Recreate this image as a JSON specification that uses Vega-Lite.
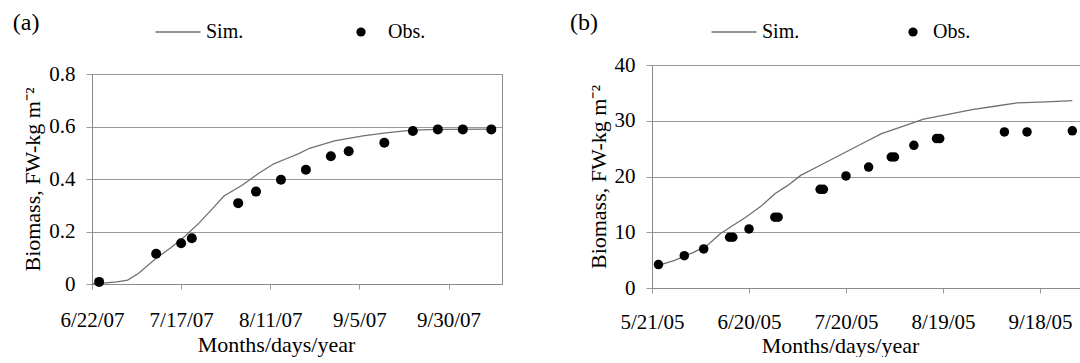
{
  "$schema": "https://vega.github.io/schema/vega-lite/v6.json",
  "background": "white",
  "padding": {"left": 12, "top": 9, "right": 0, "bottom": 0},
  "spacing": 66,
  "config": {
    "font": "Liberation Serif",
    "view": {"stroke": "#8a8a8a", "strokeWidth": 1},
    "axis": {
      "labelFont": "Liberation Serif", "titleFont": "Liberation Serif",
      "labelColor": "black", "titleColor": "black", "titleFontWeight": "normal",
      "labelFontSize": 21, "titleFontSize": 22,
      "domainColor": "#8a8a8a", "tickColor": "#9a9a9a", "gridColor": "#9a9a9a", "gridWidth": 1
    },
    "legend": {"labelFont": "Liberation Serif", "labelFontSize": 20, "labelColor": "black", "padding": 0},
    "title": {"font": "Liberation Serif", "fontSize": 24, "fontWeight": "normal", "anchor": "start", "color": "black"}
  },
  "datasets": {
    "simA": [
      {"date": "2007/06/22", "v": 0.0, "s": "Sim."},
      {"date": "2007/06/25", "v": 0.003, "s": "Sim."},
      {"date": "2007/06/29", "v": 0.008, "s": "Sim."},
      {"date": "2007/07/02", "v": 0.015, "s": "Sim."},
      {"date": "2007/07/05", "v": 0.04, "s": "Sim."},
      {"date": "2007/07/10", "v": 0.098, "s": "Sim."},
      {"date": "2007/07/14", "v": 0.137, "s": "Sim."},
      {"date": "2007/07/18", "v": 0.181, "s": "Sim."},
      {"date": "2007/07/22", "v": 0.232, "s": "Sim."},
      {"date": "2007/07/26", "v": 0.29, "s": "Sim."},
      {"date": "2007/07/29", "v": 0.335, "s": "Sim."},
      {"date": "2007/08/03", "v": 0.375, "s": "Sim."},
      {"date": "2007/08/08", "v": 0.424, "s": "Sim."},
      {"date": "2007/08/12", "v": 0.458, "s": "Sim."},
      {"date": "2007/08/16", "v": 0.48, "s": "Sim."},
      {"date": "2007/08/19", "v": 0.497, "s": "Sim."},
      {"date": "2007/08/22", "v": 0.517, "s": "Sim."},
      {"date": "2007/08/29", "v": 0.545, "s": "Sim."},
      {"date": "2007/09/06", "v": 0.564, "s": "Sim."},
      {"date": "2007/09/13", "v": 0.577, "s": "Sim."},
      {"date": "2007/09/20", "v": 0.586, "s": "Sim."},
      {"date": "2007/09/27", "v": 0.589, "s": "Sim."},
      {"date": "2007/10/13", "v": 0.59, "s": "Sim."}
    ],
    "obsA": [
      {"date": "2007/06/24", "v": 0.008, "o": "Obs."},
      {"date": "2007/07/10", "v": 0.115, "o": "Obs."},
      {"date": "2007/07/17", "v": 0.155, "o": "Obs."},
      {"date": "2007/07/20", "v": 0.174, "o": "Obs."},
      {"date": "2007/08/02", "v": 0.308, "o": "Obs."},
      {"date": "2007/08/07", "v": 0.352, "o": "Obs."},
      {"date": "2007/08/14", "v": 0.397, "o": "Obs."},
      {"date": "2007/08/21", "v": 0.435, "o": "Obs."},
      {"date": "2007/08/28", "v": 0.487, "o": "Obs."},
      {"date": "2007/09/02", "v": 0.506, "o": "Obs."},
      {"date": "2007/09/12", "v": 0.538, "o": "Obs."},
      {"date": "2007/09/20", "v": 0.583, "o": "Obs."},
      {"date": "2007/09/27", "v": 0.589, "o": "Obs."},
      {"date": "2007/10/04", "v": 0.589, "o": "Obs."},
      {"date": "2007/10/12", "v": 0.589, "o": "Obs."}
    ],
    "simB": [
      {"date": "2005/05/23", "v": 4.05, "s": "Sim."},
      {"date": "2005/05/28", "v": 4.95, "s": "Sim."},
      {"date": "2005/06/03", "v": 6.45, "s": "Sim."},
      {"date": "2005/06/07", "v": 7.6, "s": "Sim."},
      {"date": "2005/06/11", "v": 9.7, "s": "Sim."},
      {"date": "2005/06/15", "v": 11.2, "s": "Sim."},
      {"date": "2005/06/19", "v": 12.7, "s": "Sim."},
      {"date": "2005/06/24", "v": 14.8, "s": "Sim."},
      {"date": "2005/06/28", "v": 16.9, "s": "Sim."},
      {"date": "2005/07/02", "v": 18.4, "s": "Sim."},
      {"date": "2005/07/06", "v": 20.2, "s": "Sim."},
      {"date": "2005/07/11", "v": 21.7, "s": "Sim."},
      {"date": "2005/07/17", "v": 23.5, "s": "Sim."},
      {"date": "2005/07/24", "v": 25.6, "s": "Sim."},
      {"date": "2005/07/31", "v": 27.7, "s": "Sim."},
      {"date": "2005/08/07", "v": 29.1, "s": "Sim."},
      {"date": "2005/08/13", "v": 30.3, "s": "Sim."},
      {"date": "2005/08/21", "v": 31.2, "s": "Sim."},
      {"date": "2005/08/28", "v": 32.0, "s": "Sim."},
      {"date": "2005/09/04", "v": 32.6, "s": "Sim."},
      {"date": "2005/09/11", "v": 33.2, "s": "Sim."},
      {"date": "2005/09/20", "v": 33.4, "s": "Sim."},
      {"date": "2005/09/28", "v": 33.6, "s": "Sim."}
    ],
    "obsB": [
      {"date": "2005/05/23", "v": 4.2, "o": "Obs."},
      {"date": "2005/05/31", "v": 5.8, "o": "Obs."},
      {"date": "2005/06/06", "v": 7.0, "o": "Obs."},
      {"date": "2005/06/14", "v": 9.1, "o": "Obs."},
      {"date": "2005/06/15", "v": 9.1, "o": "Obs."},
      {"date": "2005/06/20", "v": 10.6, "o": "Obs."},
      {"date": "2005/06/28", "v": 12.7, "o": "Obs."},
      {"date": "2005/06/29", "v": 12.7, "o": "Obs."},
      {"date": "2005/07/12", "v": 17.7, "o": "Obs."},
      {"date": "2005/07/13", "v": 17.7, "o": "Obs."},
      {"date": "2005/07/20", "v": 20.1, "o": "Obs."},
      {"date": "2005/07/27", "v": 21.7, "o": "Obs."},
      {"date": "2005/08/03", "v": 23.5, "o": "Obs."},
      {"date": "2005/08/04", "v": 23.5, "o": "Obs."},
      {"date": "2005/08/10", "v": 25.6, "o": "Obs."},
      {"date": "2005/08/17", "v": 26.8, "o": "Obs."},
      {"date": "2005/08/18", "v": 26.8, "o": "Obs."},
      {"date": "2005/09/07", "v": 28.0, "o": "Obs."},
      {"date": "2005/09/14", "v": 28.0, "o": "Obs."},
      {"date": "2005/09/28", "v": 28.2, "o": "Obs."}
    ]
  },
  "hconcat": [
    {
      "spacing": 0,
      "vconcat": [
        {"width": 10, "height": 1, "data": {"values": []}, "mark": "point", "view": {"stroke": null}},
        {
          "width": 410,
          "height": 210,
          "title": {"text": "(a)", "offset": -13, "dx": -9},
          "encoding": {
            "x": {
              "field": "date", "type": "temporal", "title": "Months/days/year",
              "scale": {"domain": [{"year": 2007, "month": 6, "date": 22}, {"year": 2007, "month": 10, "date": 15}]},
              "axis": {
                "values": [
                  {"year": 2007, "month": 6, "date": 22},
                  {"year": 2007, "month": 7, "date": 17},
                  {"year": 2007, "month": 8, "date": 11},
                  {"year": 2007, "month": 9, "date": 5},
                  {"year": 2007, "month": 9, "date": 30}
                ],
                "format": "%-m/%-d/%y", "grid": false, "tickSize": 5, "labelPadding": 20,
                "titlePadding": 4, "titleX": 184, "labelFlush": false, "labelOverlap": false
              }
            },
            "y": {
              "field": "v", "type": "quantitative", "title": "Biomass, FW-kg m⁻²",
              "scale": {"domain": [0, 0.8], "nice": false},
              "axis": {"values": [0, 0.2, 0.4, 0.6, 0.8], "format": "~g", "tickSize": 6, "labelPadding": 11, "titlePadding": 4, "grid": true}
            }
          },
          "layer": [
            {
              "data": {"name": "simA"},
              "mark": {"type": "line", "strokeWidth": 1.3},
              "encoding": {
                "color": {
                  "field": "s", "type": "nominal", "scale": {"range": ["#707070"]},
                  "legend": {"orient": "none", "legendX": 76, "legendY": -52, "title": null, "symbolType": "M-5,0H5", "symbolSize": 81, "symbolStrokeWidth": 1.3, "symbolFillColor": "transparent", "labelOffset": 18}
                }
              }
            },
            {
              "data": {"name": "obsA"},
              "mark": {"type": "point", "filled": true, "color": "black", "size": 100, "opacity": 1},
              "encoding": {
                "shape": {
                  "field": "o", "type": "nominal", "scale": {"range": ["circle"]},
                  "legend": {"orient": "none", "legendX": 259, "legendY": -52, "title": null, "symbolType": "circle", "symbolSize": 85, "symbolFillColor": "black", "symbolStrokeWidth": 0, "labelOffset": 17}
                }
              }
            }
          ]
        }
      ],
      "resolve": {
        "scale": {"x": "independent", "y": "independent", "color": "independent", "shape": "independent"},
        "legend": {"color": "independent", "shape": "independent"}
      }
    },
    {
      "spacing": 0,
      "vconcat": [
        {"width": 10, "height": 1, "data": {"values": []}, "mark": "point", "view": {"stroke": null}},
        {
          "width": 430,
          "height": 223,
          "title": {"text": "(b)", "offset": -13, "dx": -17},
          "encoding": {
            "x": {
              "field": "date", "type": "temporal", "title": "Months/days/year",
              "scale": {"domain": [{"year": 2005, "month": 5, "date": 21}, {"year": 2005, "month": 10, "date": 1}]},
              "axis": {
                "values": [
                  {"year": 2005, "month": 5, "date": 21},
                  {"year": 2005, "month": 6, "date": 20},
                  {"year": 2005, "month": 7, "date": 20},
                  {"year": 2005, "month": 8, "date": 19},
                  {"year": 2005, "month": 9, "date": 18}
                ],
                "format": "%-m/%-d/%y", "grid": false, "tickSize": 5, "labelPadding": 18,
                "titlePadding": 3, "titleX": 188, "labelFlush": false, "labelOverlap": false
              }
            },
            "y": {
              "field": "v", "type": "quantitative", "title": "Biomass, FW-kg m⁻²",
              "scale": {"domain": [0, 40], "nice": false},
              "axis": {"values": [0, 10, 20, 30, 40], "format": "d", "tickSize": 6, "labelPadding": 11, "titlePadding": 4, "grid": true}
            }
          },
          "layer": [
            {
              "data": {"name": "simB"},
              "mark": {"type": "line", "strokeWidth": 1.3},
              "encoding": {
                "color": {
                  "field": "s", "type": "nominal", "scale": {"range": ["#707070"]},
                  "legend": {"orient": "none", "legendX": 72, "legendY": -43, "title": null, "symbolType": "M-5,0H5", "symbolSize": 81, "symbolStrokeWidth": 1.3, "symbolFillColor": "transparent", "labelOffset": 18}
                }
              }
            },
            {
              "data": {"name": "obsB"},
              "mark": {"type": "point", "filled": true, "color": "black", "size": 90, "opacity": 1},
              "encoding": {
                "shape": {
                  "field": "o", "type": "nominal", "scale": {"range": ["circle"]},
                  "legend": {"orient": "none", "legendX": 251, "legendY": -43, "title": null, "symbolType": "circle", "symbolSize": 85, "symbolFillColor": "black", "symbolStrokeWidth": 0, "labelOffset": 10}
                }
              }
            }
          ]
        }
      ],
      "resolve": {
        "scale": {"x": "independent", "y": "independent", "color": "independent", "shape": "independent"},
        "legend": {"color": "independent", "shape": "independent"}
      }
    }
  ],
  "resolve": {
    "scale": {"x": "independent", "y": "independent", "color": "independent", "shape": "independent"},
    "legend": {"color": "independent", "shape": "independent"}
  }
}
